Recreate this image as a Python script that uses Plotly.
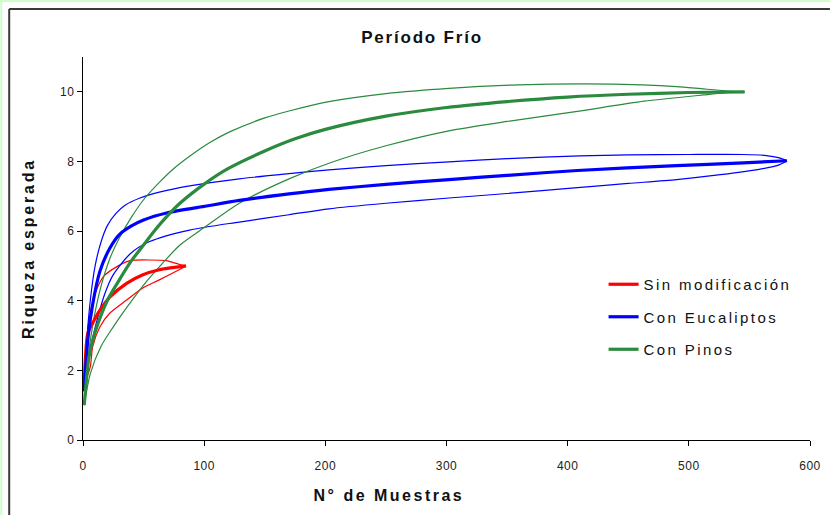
import plotly.graph_objects as go

# Curvas de rarefacción (riqueza esperada vs. nº de muestras) con sus límites
# Sin modificación
x_sin = [1, 4, 8, 14, 22, 36, 49, 63, 85]
y_sin = [1.6, 3.07, 3.36, 3.73, 4.1, 4.5, 4.74, 4.89, 5.0]
x_sin_sup = [1, 4, 7, 11, 17, 28, 39, 55, 69, 74, 80, 85]
y_sin_sup = [1.6, 3.16, 3.83, 4.3, 4.7, 4.98, 5.15, 5.17, 5.15, 5.1, 5.04, 5.0]
x_sin_inf = [1, 6, 8, 14, 22, 36, 49, 63, 82, 85]
y_sin_inf = [1.6, 2.1, 2.68, 3.25, 3.64, 4.02, 4.36, 4.6, 4.94, 5.0]

# Con Eucaliptos
x_euc = [1, 4, 8, 14, 22, 30, 40, 50, 69, 102, 129, 170, 203, 250, 302, 350, 408, 490, 545, 581]
y_euc = [1.4, 2.9, 3.9, 4.85, 5.5, 5.9, 6.15, 6.32, 6.52, 6.72, 6.88, 7.07, 7.2, 7.34, 7.48,
         7.6, 7.74, 7.88, 7.96, 8.02]
x_euc_sup = [1, 3, 6, 10, 15, 20, 27, 35, 47, 63, 88, 129, 170, 203, 250, 302, 350,
             410, 450, 500, 545, 564, 574, 581]
y_euc_sup = [1.4, 2.8, 4.0, 5.0, 5.7, 6.15, 6.5, 6.75, 6.95, 7.12, 7.3, 7.5, 7.65, 7.76,
             7.88, 7.99, 8.08, 8.16, 8.19, 8.2, 8.2, 8.17, 8.11, 8.02]
x_euc_inf = [1, 6, 11, 18, 25, 39, 55, 88, 129, 170, 203, 250, 302, 350, 408, 450, 490,
             526, 559, 575, 581]
y_euc_inf = [1.4, 2.6, 3.36, 4.2, 4.75, 5.35, 5.7, 6.03, 6.26, 6.47, 6.64, 6.8, 6.95, 7.08,
             7.25, 7.37, 7.48, 7.62, 7.78, 7.91, 8.02]

# Con Pinos
x_pin = [1, 5, 10, 20, 30, 40, 50, 60, 70, 80, 100, 120, 150, 175, 200, 250, 300, 350,
         400, 450, 500, 546]
y_pin = [1.0, 2.4, 3.1, 4.0, 4.6, 5.15, 5.6, 6.05, 6.45, 6.8, 7.35, 7.8, 8.3, 8.65, 8.92,
         9.3, 9.55, 9.72, 9.85, 9.93, 9.98, 10.0]
x_pin_sup = [1, 4, 8, 14, 22, 30, 40, 50, 63, 75, 88, 105, 121, 150, 170, 203, 250, 302,
             359, 413, 462, 490, 510, 530, 546]
y_pin_sup = [1.0, 2.3, 3.3, 4.3, 5.2, 5.8, 6.4, 6.9, 7.4, 7.8, 8.15, 8.55, 8.85, 9.25, 9.45,
             9.72, 9.95, 10.1, 10.2, 10.23, 10.2, 10.15, 10.09, 10.03, 10.0]
x_pin_inf = [1, 6, 15, 25, 36, 50, 65, 80, 100, 129, 170, 203, 250, 302, 350, 408, 463,
             512, 533, 546]
y_pin_inf = [1.0, 1.9, 2.7, 3.25, 3.8, 4.45, 5.05, 5.6, 6.1, 6.8, 7.5, 7.95, 8.45, 8.88,
             9.15, 9.44, 9.73, 9.91, 9.98, 10.0]

nombres = ["Sin modificación", "Con Eucaliptos", "Con Pinos"]
colores = ["#ff0000", "#0000ff", "#2a8a3e"]

series = [
    (x_sin, y_sin, x_sin_sup, y_sin_sup, x_sin_inf, y_sin_inf),
    (x_euc, y_euc, x_euc_sup, y_euc_sup, x_euc_inf, y_euc_inf),
    (x_pin, y_pin, x_pin_sup, y_pin_sup, x_pin_inf, y_pin_inf),
]

fig = go.Figure()

# límites (líneas finas) primero, curvas medias encima
for nombre, color, (xm, ym, xs, ys, xi, yi) in zip(nombres, colores, series):
    for xx, yy in ((xs, ys), (xi, yi)):
        fig.add_trace(go.Scatter(
            x=xx, y=yy, mode="lines", legendgroup=nombre, showlegend=False,
            line=dict(color=color, width=1.2, shape="spline", smoothing=0.7),
            hoverinfo="skip"))

for nombre, color, (xm, ym, xs, ys, xi, yi) in zip(nombres, colores, series):
    fig.add_trace(go.Scatter(
        x=xm, y=ym, mode="lines", name=nombre, legendgroup=nombre,
        line=dict(color=color, width=3.2, shape="spline", smoothing=0.7)))

W, H = 832, 515
L, R, T, B = 83, 20, 57, 75
pw, ph = W - L - R, H - T - B


def px_to_paper(px, py):
    return (px - L) / pw, (H - B - py) / ph


# marco exterior: borde verde claro y recuadro oscuro
shapes = []
for (x0, y0, x1, y1, col, w) in [
    (0, 1, W, 1, "#ccffcc", 2), (1, 0, 1, H, "#ccffcc", 2),
    (9, 9, W, 9, "#3a3a3a", 2), (9, 9, 9, H, "#3a3a3a", 2),
]:
    a0, b0 = px_to_paper(x0, y0)
    a1, b1 = px_to_paper(x1, y1)
    shapes.append(dict(type="line", xref="paper", yref="paper", x0=a0, y0=b0,
                       x1=a1, y1=b1, line=dict(color=col, width=w), layer="above"))

lx, ly = px_to_paper(605, 268)
tx, ty = px_to_paper(390, 495)

fuente_titulo = "Liberation Sans Narrow, Arial Narrow, Liberation Sans"

fig.update_layout(
    width=W, height=H,
    margin=dict(l=L, r=R, t=T, b=B, pad=0),
    paper_bgcolor="white", plot_bgcolor="white",
    font=dict(family="Liberation Sans, Arial, sans-serif", color="#111", size=12),
    title=dict(text="<b>Período Frío</b>", x=(422) / W, xanchor="center",
               y=1 - 37 / H, yanchor="middle",
               font=dict(family=fuente_titulo, size=17, color="#111")),
    xaxis=dict(range=[0, 600], dtick=100, showgrid=False, zeroline=False,
               showline=True, linecolor="black", linewidth=1.3,
               ticks="outside", ticklen=5, tickcolor="black",
               ticklabelstandoff=9,
               tickfont=dict(size=12, color="#222")),
    yaxis=dict(range=[0, 11], tickvals=[0, 2, 4, 6, 8, 10], showgrid=False, zeroline=False,
               showline=True, linecolor="black", linewidth=1.3,
               ticks="outside", ticklen=5, tickcolor="black",
               tickfont=dict(size=12, color="#222"),
               title=dict(text="<b>Riqueza esperada</b>", standoff=22,
                          font=dict(family=fuente_titulo, size=16, color="#111"))),
    legend=dict(x=lx, y=ly, xanchor="left", yanchor="top", bgcolor="rgba(0,0,0,0)",
                font=dict(size=15, color="#111"), tracegroupgap=10,
                itemwidth=30),
    showlegend=True,
    shapes=shapes,
    annotations=[dict(text="<b>N° de Muestras</b>", xref="paper", yref="paper",
                      x=tx, y=ty, xanchor="center", yanchor="middle", showarrow=False,
                      font=dict(family=fuente_titulo, size=16, color="#111"))],
)

# espaciado entre letras de los textos del gráfico
post = """
var gd = document.getElementById('{plot_id}');
function esp(){
  gd.querySelectorAll('.legend .scrollbox').forEach(function(s){s.removeAttribute('clip-path');});
  gd.querySelectorAll('.legendtext').forEach(function(t){t.style.letterSpacing='2.4px';});
  gd.querySelectorAll('.gtitle').forEach(function(t){t.style.letterSpacing='1.8px';});
  gd.querySelectorAll('.ytitle').forEach(function(t){t.style.letterSpacing='2.8px';});
  gd.querySelectorAll('.annotation-text').forEach(function(t){t.style.letterSpacing='2.5px';});
  gd.querySelectorAll('.xtick text, .ytick text').forEach(function(t){t.style.letterSpacing='0.5px';});
}
esp();
gd.on('plotly_afterplot', esp);
"""

fig.write_html("out.html", post_script=post)
